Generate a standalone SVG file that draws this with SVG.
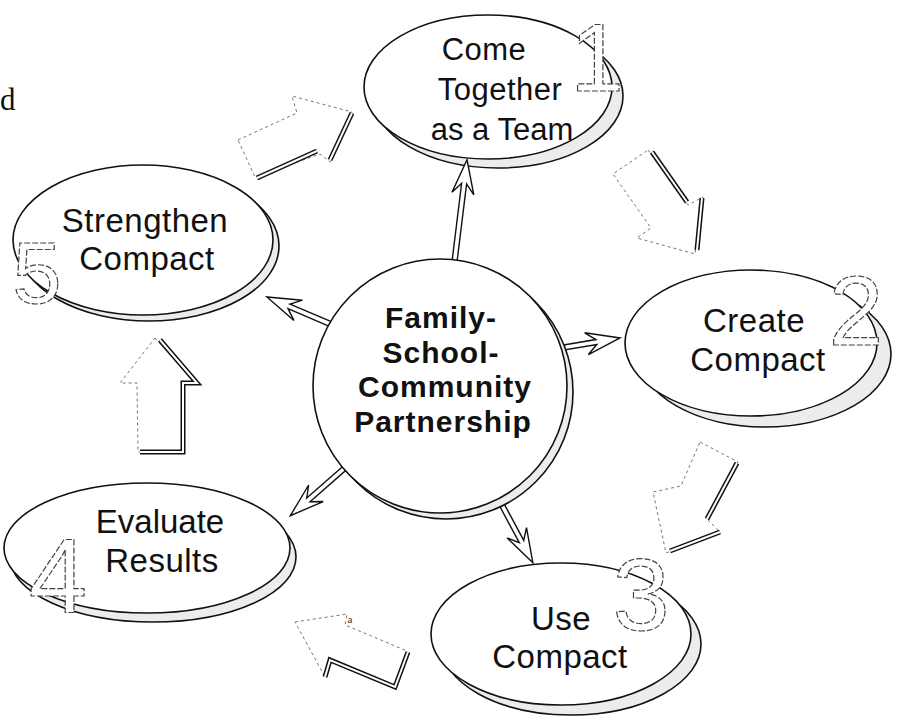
<svg xmlns="http://www.w3.org/2000/svg" width="897" height="723" viewBox="0 0 897 723">
<style>
.bg{fill:#fff}
.main{fill:#fff;stroke:#111;stroke-width:1.6}
.rim{fill:#ececec;stroke:#111;stroke-width:1.6}
.lbl{font-family:"Liberation Sans",Arial,sans-serif;font-size:33px;letter-spacing:0.5px;fill:#111;text-anchor:middle}
.ctr{font-family:"Liberation Sans",Arial,sans-serif;font-size:30px;font-weight:700;letter-spacing:1px;fill:#111;text-anchor:middle}
.num{font-family:"Liberation Sans",Arial,sans-serif;fill:#fff;stroke:#444;stroke-width:1.2;stroke-dasharray:6 2;text-anchor:middle}
.conn{fill:#fff;stroke:#111;stroke-width:1.4;stroke-linejoin:miter}
.blk{fill:#fff;stroke:#777;stroke-width:1;stroke-dasharray:3 3}
.dk{fill:none;stroke:#111;stroke-width:5;stroke-linejoin:miter}
.dki{fill:none;stroke:#fff;stroke-width:2;stroke-linejoin:miter}
</style>
<rect class="bg" x="0" y="0" width="897" height="723"/>
<text x="0" y="110" font-family="'Liberation Serif',serif" font-size="31" fill="#111">d</text>

<g id="cycle-arrows">
  <g id="arrow-5-1">
    <polygon class="blk" points="238,140 297,113 292,96 352,112 330,162 320,154 255,177"/>
    <polyline class="dk" points="257,178 317,151"/><polyline class="dki" points="257,178 317,151"/>
    <polyline class="dk" points="330,160 352,113"/><polyline class="dki" points="330,160 352,113"/>
  </g>
  <g id="arrow-1-2">
    <polygon class="blk" points="648,150 688,205 703,197 695,254 637,238 651,228 613,174"/>
    <polyline class="dk" points="652,152 687,202"/><polyline class="dki" points="652,152 687,202"/>
    <polyline class="dk" points="702,198 697,250"/><polyline class="dki" points="702,198 697,250"/>
  </g>
  <g id="arrow-2-3">
    <polygon class="blk" points="700,442 738,462 708,520 720,532 666,553 653,492 681,486"/>
    <polyline class="dk" points="737,463 707,519"/><polyline class="dki" points="737,463 707,519"/>
    <polyline class="dk" points="720,532 670,551"/><polyline class="dki" points="720,532 670,551"/>
  </g>
  <g id="arrow-3-4">
    <polygon class="blk" points="295,622 347,614 345,625 407,651 395,687 330,660 325,677"/>
    <polyline class="dk" points="325,677 330,660 395,687 408,652"/><polyline class="dki" points="325,677 330,660 395,687 408,652"/>
    <text x="350" y="623" font-family="'Liberation Serif',serif" font-size="11" fill="#333" text-anchor="middle">a</text>
  </g>
  <g id="arrow-4-5">
    <polygon class="blk" points="155,338 197,383 183,383 183,452 138,452 137,383 120,383"/>
    <polyline class="dk" points="160,340 197,383 183,383 183,452 140,452"/><polyline class="dki" points="160,340 197,383 183,383 183,452 140,452"/>
  </g>
</g>

<g id="node-1">
  <ellipse class="rim" cx="498" cy="96" rx="125" ry="72"/>
  <ellipse class="main" cx="488" cy="87" rx="124" ry="72"/>
  <text class="num" x="597" y="91" font-size="96">1</text>
  <text class="lbl" style="font-size:31px" x="484" y="60">Come</text>
  <text class="lbl" style="font-size:31px" x="500" y="100">Together</text>
  <text class="lbl" style="font-size:31px;letter-spacing:0" x="502" y="140">as a Team</text>
</g>

<g id="node-2">
  <ellipse class="rim" cx="765" cy="354" rx="126" ry="73"/>
  <ellipse class="main" cx="751" cy="343" rx="126" ry="73"/>
  <text class="num" x="856" y="345" font-size="98">2</text>
  <text class="lbl" x="754" y="332">Create</text>
  <text class="lbl" x="758" y="371">Compact</text>
</g>

<g id="node-3">
  <ellipse class="rim" cx="571" cy="644" rx="130" ry="71"/>
  <ellipse class="main" cx="561" cy="634" rx="130" ry="71"/>
  <text class="num" x="641" y="630" font-size="102">3</text>
  <text class="lbl" x="561" y="630">Use</text>
  <text class="lbl" x="560" y="668">Compact</text>
</g>

<g id="node-4">
  <ellipse class="rim" cx="153" cy="557" rx="143" ry="65"/>
  <ellipse class="main" cx="147" cy="548" rx="143" ry="65"/>
  <text class="num" x="58" y="613" font-size="105">4</text>
  <text class="lbl" style="letter-spacing:0" x="160" y="533">Evaluate</text>
  <text class="lbl" x="162" y="572">Results</text>
</g>

<g id="node-5">
  <ellipse class="rim" cx="149" cy="246" rx="130" ry="75"/>
  <ellipse class="main" cx="143" cy="240" rx="130" ry="75"/>
  <text class="num" x="37" y="303" font-size="88">5</text>
  <text class="lbl" x="145" y="232">Strengthen</text>
  <text class="lbl" x="147" y="270">Compact</text>
</g>

<g id="connectors">
  <path class="conn" transform="translate(453.5,270) rotate(-83)" d="M0,-2.5 H87 L77,-11 L111,0 L77,11 L87,2.5 H0 Z"/>
  <path class="conn" transform="translate(335,326) rotate(-156.9)" d="M0,-2.5 H50 L40,-11 L74,0 L40,11 L50,2.5 H0 Z"/>
  <path class="conn" transform="translate(555,349) rotate(-9.6)" d="M0,-2.5 H42 L32,-11 L66,0 L32,11 L42,2.5 H0 Z"/>
  <path class="conn" transform="translate(355,459) rotate(138.75)" d="M0,-2.5 H62 L52,-11 L86,0 L52,11 L62,2.5 H0 Z"/>
  <path class="conn" transform="translate(496,494) rotate(61.8)" d="M0,-2.5 H54 L44,-11 L78,0 L44,11 L54,2.5 H0 Z"/>
</g>

<g id="center">
  <circle class="rim" cx="446" cy="392" r="127"/>
  <circle class="main" cx="440" cy="386" r="127"/>
  <text class="ctr" x="441" y="328">Family-</text>
  <text class="ctr" x="441" y="363">School-</text>
  <text class="ctr" x="445" y="397">Community</text>
  <text class="ctr" x="443" y="432">Partnership</text>
</g>
</svg>
